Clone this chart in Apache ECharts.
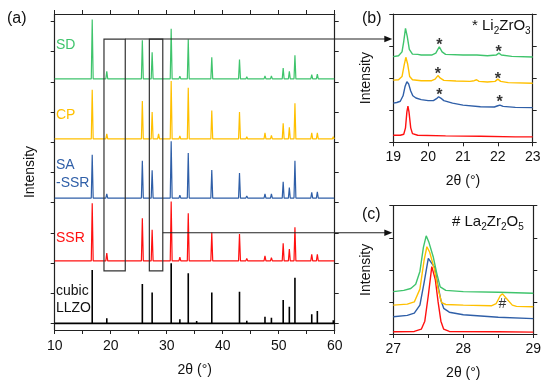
<!DOCTYPE html>
<html><head><meta charset="utf-8">
<script src="https://cdn.jsdelivr.net/npm/echarts@6/dist/echarts.min.js"></script>
<style>html,body{margin:0;padding:0;background:#fff}#c{width:550px;height:392px}</style>
</head><body><div id="c"></div>
<script>
const FONT = "'Liberation Sans', Arial, sans-serif";
// ---------- Panel (a): peak positions (2θ) and heights ----------
const peakPos = [16.7, 19.3, 20.2, 25.65, 27.4, 28.55, 30.8, 32.35, 33.85, 35.35, 38.05, 43.0, 44.3, 47.55, 48.7, 50.8, 51.9, 52.9, 55.9, 56.9, 59.75];
const hLLZO  = [1.77, 0.17, 0,    1.30, 1.02, 0,    1.99, 0.14, 1.66, 0.08, 1.02, 1.05, 0.09, 0.22, 0.19, 0.77, 0.55, 1.51, 0.30, 0.41, 0.10];
const hSSR   = [1.91, 0.26, 0,    1.41, 1.03, 0,    1.97, 0.12, 1.58, 0.04, 0.94, 0.89, 0.08, 0.17, 0.11, 0.58, 0.39, 1.11, 0.22, 0.22, 0.05];
const hSASSR = [1.44, 0.14, 0.05, 1.24, 0.92, 0,    1.88, 0.10, 1.49, 0.04, 0.93, 0.83, 0.07, 0.14, 0.14, 0.54, 0.35, 1.24, 0.19, 0.21, 0.05];
const hCP    = [1.63, 0.17, 0.05, 1.26, 0.89, 0.17, 1.92, 0.10, 1.70, 0.04, 0.94, 0.89, 0.07, 0.20, 0.12, 0.52, 0.39, 1.18, 0.20, 0.20, 0.07];
const hSD    = [1.97, 0.25, 0.06, 1.28, 0.88, 0,    1.66, 0.09, 1.31, 0.04, 0.72, 0.64, 0.07, 0.10, 0.10, 0.36, 0.25, 0.78, 0.14, 0.16, 0.05];
const baseSD = 8.10, baseCP = 6.11, baseSASSR = 4.15, baseSSR = 2.07, baseLLZO = 0;
const xTicksA = [10, 20, 30, 40, 50, 60];
const yTicksA = [0,1,2,3,4,5,6,7,8,9,10];
// ---------- Panel (b): 19–23° zoom ----------
const bRed = [[19.0,0.22],[19.2,0.22],[19.3,0.25],[19.35,0.45],[19.39,0.95],[19.42,1.13],[19.45,0.95],[19.5,0.45],[19.55,0.27],[19.7,0.22],[20.5,0.2],[21.5,0.19],[22.5,0.17],[23.0,0.17]];
const bBlue = [[19.0,1.22],[19.1,1.24],[19.2,1.28],[19.28,1.45],[19.34,1.75],[19.39,1.89],[19.44,1.82],[19.5,1.6],[19.56,1.45],[19.65,1.38],[19.8,1.33],[20.0,1.3],[20.15,1.3],[20.24,1.36],[20.3,1.42],[20.36,1.38],[20.45,1.3],[20.7,1.22],[21.0,1.16],[21.5,1.11],[21.9,1.1],[22.0,1.14],[22.06,1.16],[22.15,1.12],[22.5,1.09],[23.0,1.08]];
const bOrange = [[19.0,1.94],[19.15,1.95],[19.25,2.05],[19.31,2.4],[19.36,2.65],[19.41,2.45],[19.47,2.05],[19.55,1.95],[19.8,1.92],[20.1,1.92],[20.2,1.97],[20.28,2.08],[20.35,2.0],[20.45,1.93],[20.8,1.91],[21.2,1.9],[21.32,1.92],[21.39,1.95],[21.46,1.9],[21.7,1.88],[21.92,1.9],[22.0,1.97],[22.08,1.9],[22.3,1.86],[23.0,1.84]];
const bGreen = [[19.0,2.67],[19.15,2.7],[19.25,2.82],[19.3,3.15],[19.35,3.55],[19.4,3.3],[19.46,2.9],[19.55,2.75],[19.7,2.74],[19.8,2.72],[20.1,2.72],[20.22,2.78],[20.32,2.98],[20.4,2.82],[20.5,2.74],[21.0,2.72],[21.4,2.72],[21.7,2.7],[21.95,2.72],[22.03,2.78],[22.1,2.72],[22.4,2.68],[23.0,2.66]];
const bStars = [[20.32,3.1],[22.02,2.88],[20.28,2.2],[22.0,2.05],[20.32,1.55],[22.05,1.34]];
// ---------- Panel (c): 27–29° zoom ----------
const cRed = [[27.0,0.07],[27.3,0.08],[27.4,0.15],[27.45,0.4],[27.5,1.2],[27.55,2.1],[27.6,1.7],[27.64,1.0],[27.68,0.4],[27.72,0.15],[27.8,0.08],[28.5,0.07],[29.0,0.06]];
const cBlue = [[27.0,0.54],[27.2,0.58],[27.3,0.65],[27.38,0.9],[27.44,1.6],[27.5,2.36],[27.55,2.2],[27.59,2.08],[27.63,1.6],[27.68,1.05],[27.72,0.8],[27.8,0.68],[28.0,0.6],[28.5,0.52],[29.0,0.48]];
const cOrange = [[27.0,0.9],[27.2,0.93],[27.3,1.0],[27.38,1.4],[27.44,2.3],[27.48,2.72],[27.52,2.55],[27.59,2.0],[27.64,1.4],[27.69,0.98],[27.75,0.92],[28.0,0.9],[28.4,0.88],[28.47,0.95],[28.53,1.2],[28.56,1.25],[28.62,1.1],[28.7,0.9],[28.76,0.86],[29.0,0.85]];
const cGreen = [[27.0,1.32],[27.15,1.36],[27.25,1.42],[27.32,1.55],[27.38,1.95],[27.43,2.7],[27.47,3.06],[27.51,2.85],[27.57,2.41],[27.62,1.9],[27.67,1.47],[27.75,1.36],[28.0,1.32],[28.5,1.3],[29.0,1.27]];
const cHash = [[28.56,0.93]];
// zoom boxes in panel (a) data units
const boxB = [[18.8,1.74],[22.6,9.42]];
const boxC = [[26.9,1.74],[29.3,9.42]];

const GREEN = '#3fc46c', ORANGE = '#ffc000', BLUE = '#2f5fa8', RED = '#ff1010', BLACK = '#000';

function sticks(pos, h, base) {
  const d = [[10, base]];
  pos.forEach((p, i) => { if (h[i] > 0) { d.push([p, base], [p, base + h[i]], [p, base]); } });
  d.push([60, base]);
  return d;
}
function peaks(pos, h, base) {
  const d = [[10, base]];
  pos.forEach((p, i) => { if (h[i] > 0) { d.push([p - 0.17, base], [p, base + h[i]], [p + 0.17, base]); } });
  d.push([60, base]);
  return d;
}

const chart = echarts.init(document.getElementById('c'));
const lineC = '#222';
const tick = (extra) => Object.assign({show: true, inside: false, length: 4, lineStyle: {color: lineC, width: 1}}, extra || {});
const aLine = {show: true, onZero: false, lineStyle: {color: lineC, width: 1.2}};
const lab = {color: '#111', fontSize: 14, fontFamily: FONT};
const nameStyle = {color: '#111', fontSize: 14, fontFamily: FONT};

const option = {
  animation: false,
  backgroundColor: '#fff',
  grid: [
    {left: 54.7, top: 14, width: 280, height: 316, show: false},
    {left: 393.3, top: 14, width: 139.4, height: 128.3, show: false},
    {left: 393.3, top: 205.7, width: 140, height: 128.3, show: false}
  ],
  xAxis: [
    {gridIndex: 0, type: 'value', min: 10, max: 60, interval: 5, axisLine: aLine, axisTick: tick(), splitLine: {show: false},
     axisLabel: Object.assign({margin: 9, formatter: v => xTicksA.includes(v) ? String(v) : ''}, lab),
     name: '2θ (°)', nameLocation: 'middle', nameGap: 33, nameTextStyle: nameStyle},
    {gridIndex: 0, type: 'value', position: 'top', min: 10, max: 60, interval: 5, axisLine: aLine, axisTick: tick(), axisLabel: {show: false}, splitLine: {show: false}},
    {gridIndex: 1, type: 'value', min: 19, max: 23, interval: 1, axisLine: aLine, axisTick: tick(), splitLine: {show: false},
     axisLabel: Object.assign({margin: 8}, lab), name: '2θ (°)', nameLocation: 'middle', nameGap: 32, nameTextStyle: nameStyle},
    {gridIndex: 1, type: 'value', position: 'top', min: 19, max: 23, axisLine: aLine, axisTick: {show: false}, axisLabel: {show: false}, splitLine: {show: false}},
    {gridIndex: 2, type: 'value', min: 27, max: 29, interval: 0.5, axisLine: aLine, axisTick: tick(), splitLine: {show: false},
     axisLabel: Object.assign({margin: 8, formatter: v => Number.isInteger(v) ? String(v) : ''}, lab), name: '2θ (°)', nameLocation: 'middle', nameGap: 32, nameTextStyle: nameStyle},
    {gridIndex: 2, type: 'value', position: 'top', min: 27, max: 29, axisLine: aLine, axisTick: {show: false}, axisLabel: {show: false}, splitLine: {show: false}}
  ],
  yAxis: [
    {gridIndex: 0, type: 'value', min: -0.22, max: 10.25, axisLine: aLine, axisTick: tick({customValues: yTicksA}), axisLabel: {show: false}, splitLine: {show: false},
     name: 'Intensity', nameLocation: 'middle', nameGap: 18, nameTextStyle: nameStyle},
    {gridIndex: 0, type: 'value', position: 'right', min: -0.22, max: 10.25, axisLine: aLine, axisTick: tick({customValues: yTicksA}), axisLabel: {show: false}, splitLine: {show: false}},
    {gridIndex: 1, type: 'value', min: 0, max: 4, interval: 1, axisLine: aLine, axisTick: tick(), axisLabel: {show: false}, splitLine: {show: false},
     name: 'Intensity', nameLocation: 'middle', nameGap: 20, nameTextStyle: nameStyle},
    {gridIndex: 1, type: 'value', position: 'right', min: 0, max: 4, interval: 1, axisLine: aLine, axisTick: tick(), axisLabel: {show: false}, splitLine: {show: false}},
    {gridIndex: 2, type: 'value', min: 0, max: 4, interval: 1, axisLine: aLine, axisTick: tick(), axisLabel: {show: false}, splitLine: {show: false},
     name: 'Intensity', nameLocation: 'middle', nameGap: 20, nameTextStyle: nameStyle},
    {gridIndex: 2, type: 'value', position: 'right', min: 0, max: 4, interval: 1, axisLine: aLine, axisTick: tick(), axisLabel: {show: false}, splitLine: {show: false}}
  ],
  series: []
};

function ln(data, color, xi, yi, w) {
  return {type: 'line', data: data, xAxisIndex: xi, yAxisIndex: yi, showSymbol: false, symbol: 'none',
          lineStyle: {color: color, width: w}, itemStyle: {color: color}, silent: true, clip: true, z: 3};
}
function marks(data, xi, yi, ch, size, dy, weight) {
  return {type: 'scatter', xAxisIndex: xi, yAxisIndex: yi, data: data, symbol: 'circle', symbolSize: 1,
          itemStyle: {color: 'rgba(0,0,0,0)'}, silent: true, z: 5,
          label: {show: true, position: 'inside', formatter: ch, fontSize: size, fontWeight: weight, fontFamily: FONT, color: '#000', offset: [0, dy]}};
}
option.series.push(
  ln(sticks(peakPos, hLLZO, baseLLZO), BLACK, 0, 0, 1.6),
  ln(peaks(peakPos, hSSR, baseSSR), RED, 0, 0, 1.2),
  ln(peaks(peakPos, hSASSR, baseSASSR), BLUE, 0, 0, 1.2),
  ln(peaks(peakPos, hCP, baseCP), ORANGE, 0, 0, 1.2),
  ln(peaks(peakPos, hSD, baseSD), GREEN, 0, 0, 1.2),
  ln(bRed, RED, 2, 2, 1.4), ln(bBlue, BLUE, 2, 2, 1.4), ln(bOrange, ORANGE, 2, 2, 1.4), ln(bGreen, GREEN, 2, 2, 1.4),
  ln(cRed, RED, 4, 4, 1.4), ln(cBlue, BLUE, 4, 4, 1.4), ln(cOrange, ORANGE, 4, 4, 1.4), ln(cGreen, GREEN, 4, 4, 1.4),
  marks(bStars, 2, 2, '*', 16, 3, 'bold'),
  marks(cHash, 4, 4, '#', 14, 0, 'normal')
);
chart.setOption(option);

// annotations
const pa = xy => chart.convertToPixel({xAxisIndex: 0, yAxisIndex: 0}, xy);
const b0 = pa(boxB[0]), b1 = pa(boxB[1]), c0 = pa(boxC[0]), c1 = pa(boxC[1]);
const tipX = chart.convertToPixel({xAxisIndex: 2}, 19) - 1;
const boxStyle = {stroke: '#333', lineWidth: 1.2, fill: null};
function txt(x, y, t, color, size, align) {
  return {type: 'text', x: x, y: y, z: 20, style: {text: t, fill: color, font: size + 'px ' + FONT, textVerticalAlign: 'middle', textAlign: align || 'left'}};
}
function arrow(x1, x2, y) {
  return [
    {type: 'line', z: 20, shape: {x1: x1, y1: y, x2: x2 - 6, y2: y}, style: {stroke: '#222', lineWidth: 1.1}},
    {type: 'polygon', z: 20, shape: {points: [[x2, y], [x2 - 8, y - 3.2], [x2 - 8, y + 3.2]]}, style: {fill: '#111'}}
  ];
}
const sub = {fontSize: 10, fontFamily: FONT, lineHeight: 20, verticalAlign: 'bottom', fill: '#111'};
const mainT = {fontSize: 15, fontFamily: FONT, lineHeight: 20, fill: '#111'};
const graphics = [
  {type: 'rect', z: 20, shape: {x: b0[0], y: b1[1], width: b1[0] - b0[0], height: b0[1] - b1[1]}, style: boxStyle},
  {type: 'rect', z: 20, shape: {x: c0[0], y: c1[1], width: c1[0] - c0[0], height: c0[1] - c1[1]}, style: boxStyle},
  ...arrow(b1[0], tipX, b1[1]),
  ...arrow(c1[0], tipX, pa([29.3, 3.0])[1]),
  txt(7, 19, '(a)', '#111', 16), txt(362, 19, '(b)', '#111', 16), txt(362, 215, '(c)', '#111', 16),
  txt(56, 45, 'SD', GREEN, 14), txt(56, 115, 'CP', ORANGE, 14),
  txt(56, 165, 'SA', BLUE, 14), txt(56, 183, '-SSR', BLUE, 14),
  txt(56, 238, 'SSR', RED, 14),
  txt(56, 291, 'cubic', '#111', 14), txt(56, 308, 'LLZO', '#111', 14),
  {type: 'text', x: 472, y: 16, z: 20, style: {text: '{m|* Li}{s|2}{m|ZrO}{s|3}', rich: {m: mainT, s: sub}}},
  {type: 'text', x: 452, y: 212, z: 20, style: {text: '{m|# La}{s|2}{m|Zr}{s|2}{m|O}{s|5}', rich: {m: mainT, s: sub}}}
];
chart.setOption({graphic: graphics});
</script>
</body></html>
